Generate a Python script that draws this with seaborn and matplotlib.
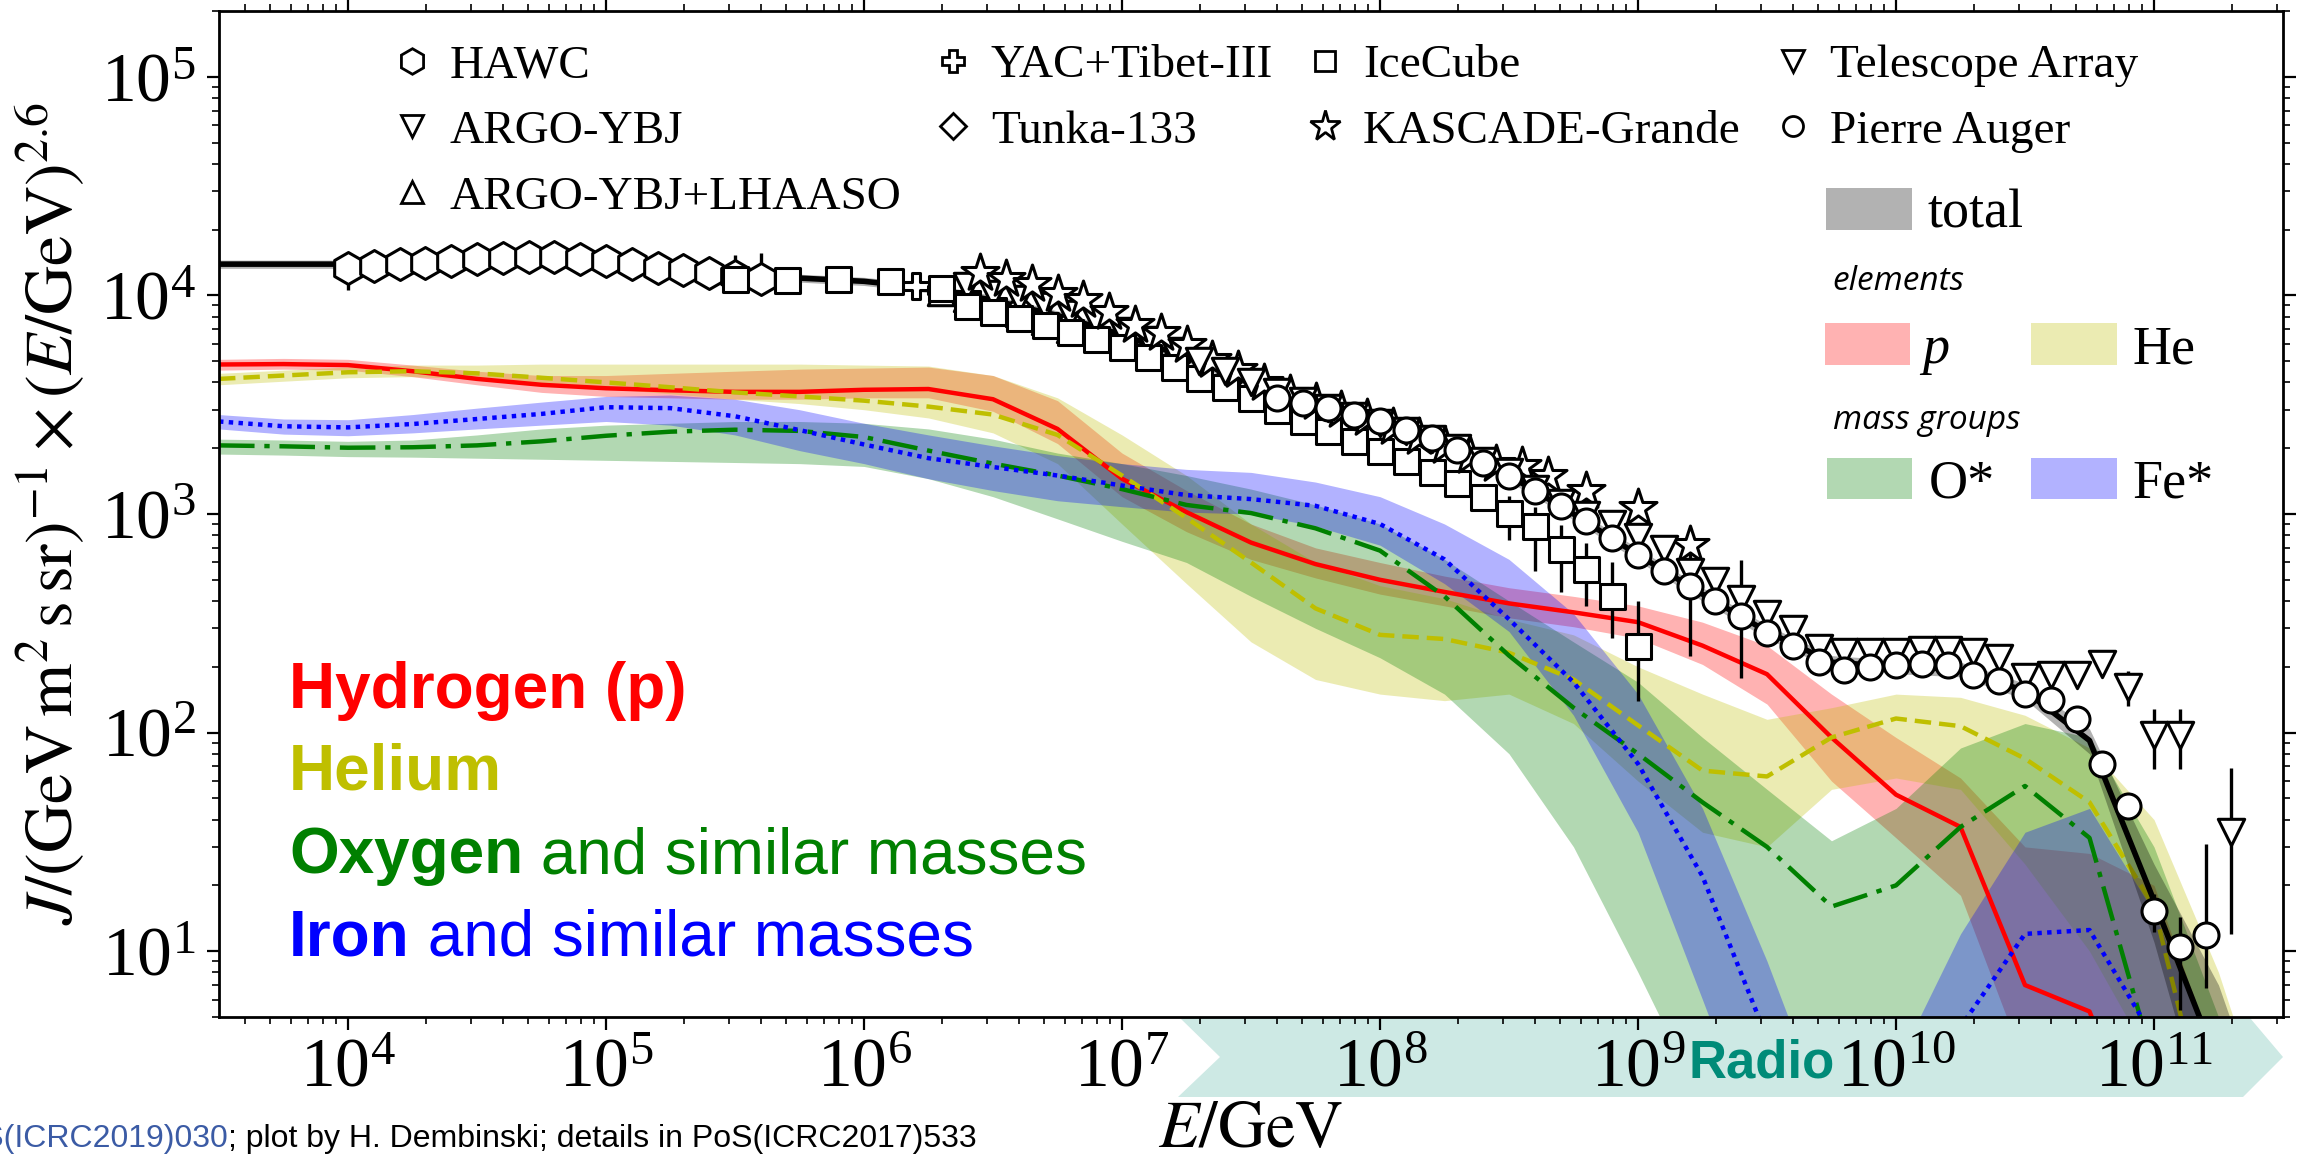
import matplotlib
matplotlib.use("Agg")
import matplotlib.pyplot as plt
from matplotlib.lines import Line2D
from matplotlib.patches import Rectangle, Polygon
from matplotlib.ticker import LogLocator, NullFormatter
import numpy as np
import seaborn as sns

# ---------------------------------------------------------------------------
# Model (GSF-like fit): total flux and mass groups, flux x E^2.6
# ---------------------------------------------------------------------------
log_e_model = [3.5, 3.75, 4.0, 4.25, 4.5, 4.75, 5.0, 5.25, 5.5, 5.75,
               6.0, 6.25, 6.5, 6.75, 7.0, 7.25, 7.5, 7.75, 8.0, 8.25,
               8.5, 8.75, 9.0, 9.25, 9.5, 9.75, 10.0, 10.25, 10.5, 10.75,
               11.0, 11.25, 11.5]

total_mid = [13900, 13900, 13900, 14100, 14600, 15000, 14400, 13200, 12300, 12000,
             11600, 10800, 9500, 8100, 6600, 5200, 4000, 3150, 2600, 2100,
             1500, 1000, 650, 430, 290, 210, 200, 195, 155, 92,
             17, 3, 1]
total_lo = [13300, 13300, 13300, 13500, 14000, 14400, 13800, 12600, 11800, 11500,
            11100, 10300, 9000, 7700, 6250, 4950, 3800, 3000, 2450, 1980,
            1410, 940, 610, 400, 270, 196, 186, 180, 142, 80,
            11, 1, 1]
total_hi = [14500, 14500, 14500, 14700, 15200, 15600, 15000, 13800, 12800, 12500,
            12100, 11300, 10000, 8500, 6950, 5450, 4200, 3300, 2750, 2230,
            1600, 1070, 695, 460, 310, 225, 215, 210, 168, 104,
            25, 7, 1]

p_mid = [4830, 4850, 4800, 4500, 4150, 3900, 3760, 3680, 3620, 3620,
         3700, 3730, 3350, 2450, 1450, 1020, 740, 590, 500, 440,
         390, 355, 320, 250, 185, 95, 52, 37, 7, 5.3,
         1, 1, 1]
p_lo = [4550, 4600, 4550, 4250, 3900, 3600, 3450, 3400, 3350, 3350,
        3400, 3400, 2950, 2100, 1200, 830, 620, 510, 430, 380,
        335, 305, 270, 205, 135, 60, 33, 18, 3, 1,
        1, 1, 1]
p_hi = [5100, 5150, 5100, 4800, 4500, 4300, 4300, 4400, 4500, 4600,
        4650, 4700, 4300, 3300, 1900, 1280, 900, 700, 600, 520,
        460, 420, 380, 320, 250, 150, 95, 62, 30, 28,
        20, 3, 1]

he_mid = [4150, 4300, 4450, 4500, 4400, 4200, 4000, 3800, 3600, 3450,
          3300, 3100, 2850, 2300, 1500, 960, 600, 370, 280, 268,
          232, 175, 108, 67, 63, 95, 116, 107, 76, 48,
          16, 1, 1]
he_lo = [3900, 4050, 4200, 4250, 4150, 3950, 3750, 3550, 3350, 3200,
         3000, 2750, 2350, 1700, 900, 480, 260, 175, 150, 140,
         150, 110, 60, 35, 30, 55, 62, 55, 25, 10,
         3, 1, 1]
he_hi = [4400, 4550, 4700, 4800, 4800, 4850, 4850, 4850, 4850, 4850,
         4800, 4750, 4300, 3400, 2300, 1500, 900, 600, 470, 410,
         330, 280, 200, 150, 115, 130, 150, 145, 120, 85,
         40, 8, 1]

o_mid = [2060, 2040, 2010, 2020, 2060, 2150, 2280, 2380, 2430, 2400,
         2250, 1950, 1700, 1500, 1300, 1100, 1010, 860, 680, 420,
         225, 130, 80, 48, 30, 16, 20, 37, 57, 33,
         3, 1, 1]
o_lo = [1880, 1860, 1830, 1820, 1800, 1780, 1760, 1740, 1720, 1700,
        1650, 1450, 1200, 950, 750, 600, 420, 300, 220, 150,
        80, 30, 8, 2, 1, 1, 1, 1, 1, 1,
        1, 1, 1]
o_hi = [2200, 2180, 2150, 2180, 2300, 2450, 2550, 2600, 2650, 2650,
        2600, 2450, 2200, 1900, 1700, 1500, 1300, 1100, 900, 620,
        400, 260, 170, 95, 55, 32, 45, 85, 110, 95,
        30, 5, 1]

fe_mid = [2650, 2520, 2490, 2580, 2720, 2870, 3080, 3050, 2800, 2420,
          2080, 1800, 1640, 1500, 1350, 1220, 1170, 1090, 900, 620,
          330, 170, 72, 22, 4, 1, 1, 4.5, 12, 12.5,
          4, 1, 1]
fe_lo = [2450, 2320, 2280, 2350, 2450, 2550, 2650, 2550, 2300, 1950,
         1700, 1450, 1280, 1150, 1080, 1020, 1000, 880, 720, 480,
         290, 120, 35, 6, 1, 1, 1, 1.5, 4, 3,
         1, 1, 1]
fe_hi = [2850, 2720, 2700, 2850, 3050, 3250, 3450, 3500, 3350, 3000,
         2600, 2300, 2050, 1850, 1700, 1600, 1550, 1400, 1200, 900,
         620, 350, 150, 45, 9, 1.5, 3, 12, 35, 45,
         15, 3, 1]

# ---------------------------------------------------------------------------
# Measurements (log10 E/GeV, flux x E^2.6)
# ---------------------------------------------------------------------------
hawc_log_e = [4.0, 4.1, 4.2, 4.3, 4.4, 4.5, 4.6, 4.7, 4.8, 4.9,
              5.0, 5.1, 5.2, 5.3, 5.4, 5.5, 5.6]
hawc_flux = [13400, 13600, 13970, 14100, 14360, 14620, 14890, 15040, 15040, 14730,
             14360, 13970, 13400, 13020, 12610, 12250, 11840]
hawc_err_lo = [2800, 900, 800, 700, 600, 600, 600, 600, 600, 600,
               700, 700, 800, 900, 1000, 1300, 1700]
hawc_err_hi = [1000, 600, 600, 600, 600, 600, 600, 600, 600, 600,
               600, 600, 700, 800, 900, 3000, 3800]

argo_log_e = [6.4, 6.5, 6.6, 6.7, 6.8, 6.9, 7.0, 7.1, 7.2]
argo_flux = [11030, 10100, 9590, 8940, 8180, 7620, 6860, 6280, 5560]

lhaaso_log_e = [6.3, 6.4, 6.5, 6.6, 6.7, 6.8]
lhaaso_flux = [10400, 9700, 9000, 8300, 7600, 7000]

yac_log_e = [6.2, 6.3, 6.4, 6.5]
yac_flux = [11000, 10600, 10000, 9300]

tunka_log_e = [6.6, 6.8, 7.0, 7.2, 7.4]
tunka_flux = [8600, 7400, 6200, 5000, 4000]

icecube_log_e = [5.5, 5.7, 5.9, 6.1, 6.3, 6.4, 6.5, 6.6, 6.7, 6.8,
                 6.9, 7.0, 7.1, 7.2, 7.3, 7.4, 7.5, 7.6, 7.7, 7.8,
                 7.9, 8.0, 8.1, 8.2, 8.3, 8.4, 8.5, 8.6, 8.7, 8.8,
                 8.9, 9.0]
icecube_flux = [11840, 11720, 11920, 11630, 10840, 8900, 8400, 7900, 7300, 6800,
                6300, 5800, 5200, 4700, 4200, 3800, 3400, 3000, 2650, 2400,
                2150, 1950, 1750, 1550, 1380, 1200, 1010, 880, 690, 560,
                420, 250]
icecube_err_lo = [300, 300, 300, 300, 300, 250, 250, 250, 200, 200,
                  200, 150, 150, 150, 120, 120, 100, 100, 80, 80,
                  80, 80, 80, 80, 80, 100, 250, 330, 250, 180,
                  150, 110]
icecube_err_hi = [300, 300, 300, 300, 300, 250, 250, 250, 200, 200,
                  200, 150, 150, 150, 120, 120, 100, 100, 80, 80,
                  80, 80, 80, 80, 80, 100, 200, 200, 200, 180,
                  180, 150]

kg_log_e = [6.45, 6.55, 6.65, 6.75, 6.85, 6.95, 7.05, 7.15, 7.25, 7.35,
            7.45, 7.55, 7.65, 7.75, 7.85, 7.95, 8.05, 8.15, 8.25, 8.35,
            8.45, 8.55, 8.65, 8.8, 9.0, 9.2]
kg_flux = [12700, 11900, 11230, 10200, 9500, 8400, 7300, 6700, 5950, 5090,
           4580, 3980, 3550, 3250, 3000, 2750, 2500, 2250, 2050, 1850,
           1700, 1650, 1500, 1280, 1070, 720]

ta_log_e = [7.3, 7.4, 7.5, 7.6, 7.7, 7.8, 7.9, 8.0, 8.1, 8.2,
            8.3, 8.4, 8.5, 8.6, 8.7, 8.8, 8.9, 9.0, 9.1, 9.2,
            9.3, 9.4, 9.5, 9.6, 9.7, 9.8, 9.9, 10.0, 10.1, 10.2,
            10.3, 10.4, 10.5, 10.6, 10.7, 10.8, 10.9, 11.0, 11.1, 11.3]
ta_flux = [5000, 4500, 4000, 3600, 3300, 3050, 2800, 2600, 2400, 2200,
           2000, 1750, 1550, 1300, 1120, 990, 901, 783, 694, 544,
           492, 410, 349, 297, 243, 233, 233, 233, 238, 238,
           233, 219, 179, 183, 183, 207, 162, 98, 98, 35]
ta_err_lo = [100, 100, 90, 80, 70, 60, 60, 60, 50, 50,
             50, 50, 50, 40, 40, 40, 60, 120, 60, 320,
             40, 233, 15, 15, 12, 12, 12, 12, 12, 12,
             12, 12, 12, 15, 18, 25, 30, 30, 30, 23]
ta_err_hi = [100, 100, 90, 80, 70, 60, 60, 60, 50, 50,
             50, 50, 50, 40, 40, 40, 60, 120, 60, 300,
             40, 207, 15, 15, 12, 12, 12, 12, 12, 12,
             12, 12, 12, 15, 18, 25, 30, 30, 30, 34]

auger_log_e = [7.6, 7.7, 7.8, 7.9, 8.0, 8.1, 8.2, 8.3, 8.4, 8.5,
               8.6, 8.7, 8.8, 8.9, 9.0, 9.1, 9.2, 9.3, 9.4, 9.5,
               9.6, 9.7, 9.8, 9.9, 10.0, 10.1, 10.2, 10.3, 10.4, 10.5,
               10.6, 10.7, 10.8, 10.9, 11.0, 11.1, 11.2]
auger_flux = [3400, 3220, 3060, 2850, 2660, 2430, 2230, 1970, 1710, 1490,
              1270, 1085, 925, 776, 651, 546, 466, 400, 340, 287,
              250, 211, 194, 199, 203, 207, 203, 183, 172, 150,
              141, 115, 72, 46, 15.3, 10.4, 11.8]
auger_err_lo = [60, 60, 50, 50, 50, 40, 40, 40, 30, 30,
                30, 25, 20, 20, 15, 12, 10, 8, 8, 6,
                6, 5, 5, 5, 5, 5, 5, 5, 6, 6,
                7, 8, 6, 5, 3, 5, 5]
auger_err_hi = [60, 60, 50, 50, 50, 40, 40, 40, 30, 30,
                30, 25, 20, 20, 15, 12, 10, 8, 8, 6,
                6, 5, 5, 5, 5, 5, 5, 5, 6, 6,
                7, 8, 6, 5, 3, 4, 19]

# ---------------------------------------------------------------------------
W, H = 2300, 1161
sns.set_theme(style="ticks", color_codes=False)
plt.rcParams.update({
    "font.family": ["Liberation Serif", "DejaVu Serif"],
    "mathtext.fontset": "stix",
    "text.color": "black",
    "axes.labelcolor": "black",
    "axes.edgecolor": "black",
    "axes.linewidth": 2.0,
    "xtick.color": "black",
    "ytick.color": "black",
    "axes.facecolor": "white",
    "figure.facecolor": "white",
})

RED, YEL, GRN, BLU = "#ff0000", "#bfbf00", "#008000", "#0000ff"

fig = plt.figure(figsize=(W / 100, H / 100), dpi=100)
ax = fig.add_axes([219 / W, 1 - 1017 / H, (2283 - 219) / W, (1017 - 11) / H])
ax.set_xscale("log")
ax.set_yscale("log")

e_model = 10.0 ** np.array(log_e_model)

components = [
    (p_lo, p_mid, p_hi, RED, "-"),
    (he_lo, he_mid, he_hi, YEL, (0, (3.7, 1.8))),
    (o_lo, o_mid, o_hi, GRN, (0, (8, 2.2, 1.2, 2.2))),
    (fe_lo, fe_mid, fe_hi, BLU, (0, (1.0, 1.2))),
]
for lo, mid, hi, col, ls in components:
    ax.fill_between(e_model, lo, hi, color=col, alpha=0.3, lw=0, zorder=1)
for lo, mid, hi, col, ls in components:
    sns.lineplot(x=e_model, y=mid, ax=ax, color=col, lw=3.2, linestyle=ls,
                 zorder=2, legend=False)

ax.fill_between(e_model, total_lo, total_hi, color="black", alpha=0.3, lw=0, zorder=3)
sns.lineplot(x=e_model, y=total_mid, ax=ax, color="black", lw=4.0, zorder=4, legend=False)

# measurements
datasets = [
    ("HAWC", hawc_log_e, hawc_flux, (hawc_err_lo, hawc_err_hi), "h", 23),
    ("YAC+Tibet-III", yac_log_e, yac_flux, None, "P", 19),
    ("Tunka-133", tunka_log_e, tunka_flux, None, "D", 16),
    ("ARGO-YBJ+LHAASO", lhaaso_log_e, lhaaso_flux, None, "^", 19),
    ("ARGO-YBJ", argo_log_e, argo_flux, None, "v", 19),
    ("IceCube", icecube_log_e, icecube_flux, (icecube_err_lo, icecube_err_hi), "s", 18),
    ("KASCADE-Grande", kg_log_e, kg_flux, None, "*", 28),
    ("Telescope Array", ta_log_e, ta_flux, (ta_err_lo, ta_err_hi), "v", 19),
    ("Pierre Auger", auger_log_e, auger_flux, (auger_err_lo, auger_err_hi), "o", 18),
]
for name, le, fl, err, mk, ms in datasets:
    e = 10.0 ** np.array(le)
    if err is not None:
        ax.errorbar(e, fl, yerr=[err[0], err[1]], fmt="none", ecolor="black",
                    elinewidth=2.4, capsize=0, zorder=5)
    sns.scatterplot(x=e, y=fl, ax=ax, marker=mk, s=ms ** 2, color="white",
                    edgecolor="black", linewidth=2.2, zorder=6, legend=False)

ax.set_xlim(10 ** 3.5, 10 ** 11.5)
ax.set_ylim(5, 2e5)

for axis in (ax.xaxis, ax.yaxis):
    axis.set_major_locator(LogLocator(base=10, numticks=30))
    axis.set_minor_locator(LogLocator(base=10, subs=np.arange(2, 10), numticks=300))
    axis.set_minor_formatter(NullFormatter())
ax.tick_params(which="both", direction="out", top=True, right=True,
               labeltop=False, labelright=False)
ax.tick_params(which="major", length=9, width=1.6, labelsize=50)
ax.tick_params(axis="x", which="major", pad=6)
ax.tick_params(axis="y", which="major", pad=8)
ax.tick_params(which="minor", length=5, width=1.2)
for sp in ax.spines.values():
    sp.set_linewidth(2.0)

ax.set_xlabel(r"$E/\mathrm{GeV}$", fontsize=48)
ax.set_ylabel(r"$J/(\mathrm{GeV\,m^2\,s\,sr})^{-1}\times(E/\mathrm{GeV})^{2.6}$", fontsize=49)
ax.xaxis.set_label_coords(0.5, -0.083)
ax.yaxis.set_label_coords(-0.064, 0.5)

# experiment legend
handles = []
labels = []
legend_order = ["HAWC", "ARGO-YBJ", "ARGO-YBJ+LHAASO", "YAC+Tibet-III", "Tunka-133",
                "IceCube", "KASCADE-Grande", "Telescope Array", "Pierre Auger"]
style = {d[0]: (d[4], d[5]) for d in datasets}
for name in legend_order:
    mk, ms = style[name]
    handles.append(Line2D([], [], ls="none", marker=mk, ms=ms * 0.8, mfc="white",
                          mec="black", mew=2.0))
    labels.append(name)
ax.legend(handles, labels, ncol=4, loc="upper left",
          bbox_to_anchor=(388 / W, 1 - 44 / H), bbox_transform=fig.transFigure,
          frameon=False, fontsize=34, handlelength=1.0, handletextpad=0.3,
          columnspacing=0.6, labelspacing=0.48, borderpad=0, borderaxespad=0)


def fx(px):
    return px / W


def fy(py):
    return 1 - py / H


# component legend
swatches = [
    ("black", 1826, 188, 1912, 230),
    (RED, 1825, 323, 1910, 365),
    (YEL, 2031, 323, 2117, 365),
    (GRN, 1827, 458, 1912, 499),
    (BLU, 2031, 458, 2117, 499),
]
for col, x0, y0, x1, y1 in swatches:
    fig.add_artist(Rectangle((fx(x0), fy(y1)), (x1 - x0) / W, (y1 - y0) / H,
                             transform=fig.transFigure, facecolor=col, alpha=0.3,
                             edgecolor="none", zorder=5))
fig.text(fx(1928), fy(228), "total", fontsize=39, va="baseline")
fig.text(fx(1922), fy(363), "p", fontsize=39, va="baseline", style="italic")
fig.text(fx(2132), fy(363), "He", fontsize=39, va="baseline")
fig.text(fx(1929), fy(498), "O*", fontsize=39, va="baseline")
fig.text(fx(2132), fy(498), "Fe*", fontsize=39, va="baseline")
fig.text(fx(1832), fy(290), "elements", fontsize=24, va="baseline",
         family=["Open Sans", "DejaVu Sans"], style="italic")
fig.text(fx(1833), fy(429), "mass groups", fontsize=24, va="baseline",
         family=["Open Sans", "DejaVu Sans"], style="italic")

# colour key for the mass groups
sans = ["Liberation Sans", "DejaVu Sans"]
fig.text(fx(289), fy(708), "Hydrogen (p)", color=RED, fontsize=46,
         fontweight="bold", family=sans, va="baseline")
fig.text(fx(289), fy(790), "Helium", color=YEL, fontsize=46,
         fontweight="bold", family=sans, va="baseline")
for word, rest, col, base in [("Oxygen", " and similar masses", GRN, 873),
                              ("Iron", " and similar masses", BLU, 955)]:
    t = fig.text(fx(289), fy(base), word, color=col, fontsize=46,
                 fontweight="bold", family=sans, va="baseline")
    ax.annotate(rest, xy=(1.0, fy(base)), xycoords=(t, "figure fraction"),
                color=col, fontsize=46, family=sans, va="baseline", ha="left",
                annotation_clip=False)

# radio detection range
arrow = [(1180, 1018), (2250, 1018), (2283, 1057), (2243, 1097),
         (1178, 1097), (1220, 1057)]
fig.add_artist(Polygon([(fx(x), fy(y)) for x, y in arrow], closed=True,
                       transform=fig.transFigure, facecolor="#cde9e4",
                       edgecolor="none", zorder=-1))
fig.text(fx(1762), fy(1063), "Radio", color="#008b78", fontsize=38,
         fontweight="bold", family=sans, ha="center", va="center")

# reference line
fig.text(fx(228), fy(1147), "PoS(ICRC2019)030", color="#3b5ba5", fontsize=23,
         family=sans, ha="right", va="baseline")
fig.text(fx(228), fy(1147), "; plot by H. Dembinski; details in PoS(ICRC2017)533",
         color="black", fontsize=23, family=sans, ha="left", va="baseline")

fig.savefig("out.png", dpi=100)
